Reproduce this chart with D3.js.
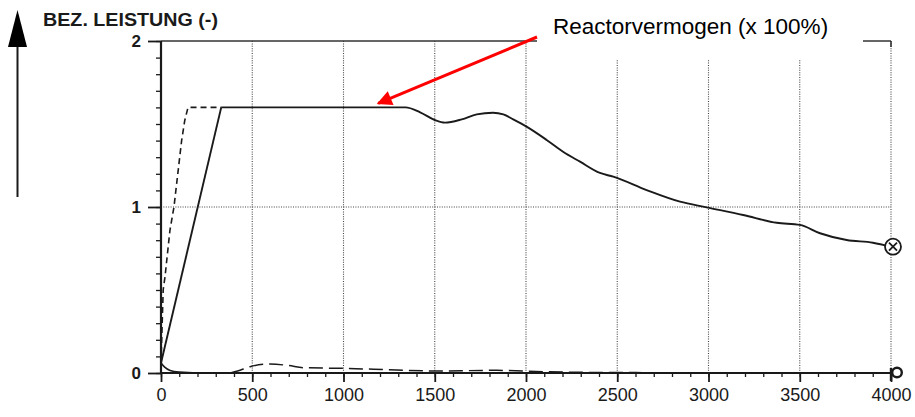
<!DOCTYPE html>
<html>
<head>
<meta charset="utf-8">
<script src="https://cdn.jsdelivr.net/npm/d3@7"></script>
<style>
  html, body { margin: 0; padding: 0; background: #fff; }
  svg { display: block; }
</style>
</head>
<body>
<svg id="chart" width="915" height="417"></svg>
<script>
// Reactor power (relative) over time
const powerTime  = [0, 330, 1340, 1420, 1500, 1556, 1648, 1730, 1819, 1876, 1930, 2003, 2113, 2203, 2296, 2405, 2478, 2661, 2844, 2990, 3190, 3374, 3501, 3611, 3757, 3901, 4000];
const powerValue = [0.06, 1.6, 1.6, 1.57, 1.524, 1.508, 1.528, 1.558, 1.568, 1.558, 1.528, 1.484, 1.404, 1.333, 1.273, 1.205, 1.183, 1.102, 1.032, 0.998, 0.952, 0.905, 0.892, 0.842, 0.801, 0.785, 0.761];

// Demanded power (dashed), rising faster than the reactor
const demandTime  = [0, 12, 22, 49, 71, 92, 113, 130, 148, 330];
const demandValue = [0.06, 0.5, 0.58, 0.86, 1.0, 1.2, 1.4, 1.52, 1.6, 1.6];

// Low-level signals near zero
const lowSolidTime  = [0, 20, 50, 100, 200, 4000];
const lowSolidValue = [0.06, 0.035, 0.015, 0.005, 0, 0];
const lowDashTime   = [380, 420, 488, 597, 700, 778, 1000, 1291, 1500, 1839, 2100, 2400, 4000];
const lowDashValue  = [0.0, 0.012, 0.038, 0.054, 0.045, 0.032, 0.028, 0.018, 0.012, 0.016, 0.008, 0.003, 0.0];

// Axis ticks
const xTicks = [0, 500, 1000, 1500, 2000, 2500, 3000, 3500, 4000];
const yTicks = [0, 1, 2];
const yLabel = "BEZ. LEISTUNG (-)";
const noteText = "Reactorvermogen (x 100%)";
const noteTarget = [1190, 1.6];

const svg = d3.select("#chart");
const margin = { left: 161, right: 24, top: 41, bottom: 44 };
const W = 915, H = 417;

const x = d3.scaleLinear().domain([0, 4000]).range([margin.left, W - margin.right]);
const y = d3.scaleLinear().domain([0, 2]).range([H - margin.bottom, margin.top]);

const ink = "#1a1a1a";

// Dotted grid
const grid = svg.append("g");
grid.selectAll("line.v").data(xTicks.filter(d => d > 0)).join("line")
  .attr("x1", d => x(d)).attr("x2", d => x(d))
  .attr("y1", y(2)).attr("y2", y(0))
  .attr("stroke", "#444").attr("stroke-width", 1.1)
  .attr("stroke-dasharray", "1,1.4");
grid.append("line")
  .attr("x1", x(0)).attr("x2", x(4000))
  .attr("y1", y(1)).attr("y2", y(1))
  .attr("stroke", "#444").attr("stroke-width", 1.1)
  .attr("stroke-dasharray", "1,1.4");

// Top frame line
svg.append("line")
  .attr("x1", x(0)).attr("x2", x(4000))
  .attr("y1", y(2)).attr("y2", y(2))
  .attr("stroke", "#333").attr("stroke-width", 1.6);
svg.append("line")
  .attr("x1", x(4000)).attr("x2", x(4000))
  .attr("y1", y(2)).attr("y2", y(2) + 6)
  .attr("stroke", "#333").attr("stroke-width", 1.6);

// Y axis with minor ticks every 0.1
const yAxis = svg.append("g").attr("transform", `translate(${x(0)},0)`);
yAxis.call(d3.axisLeft(y).tickValues(d3.range(0, 2.0001, 0.1)).tickSize(5).tickFormat(""));
yAxis.call(g => g.select(".domain").remove());
yAxis.selectAll("line").attr("stroke", ink).attr("stroke-width", 1.3);
const yMajor = svg.append("g").attr("transform", `translate(${x(0)},0)`);
yMajor.call(d3.axisLeft(y).tickValues(yTicks).tickSize(13).tickFormat(d3.format("d")).tickPadding(7));
yMajor.select(".domain").remove();
yMajor.selectAll("line").attr("stroke", ink).attr("stroke-width", 1.8);
yMajor.selectAll("text")
  .attr("font-family", "Liberation Sans, Arial, sans-serif")
  .attr("font-size", 17).attr("font-weight", "bold").attr("fill", ink);
svg.append("line")
  .attr("x1", x(0)).attr("x2", x(0)).attr("y1", y(2)).attr("y2", y(0))
  .attr("stroke", ink).attr("stroke-width", 2.2);

// X axis with minor ticks every 100
const xMinor = svg.append("g").attr("transform", `translate(0,${y(0)})`);
xMinor.call(d3.axisBottom(x).tickValues(d3.range(0, 4001, 100)).tickSize(4).tickFormat(""));
xMinor.select(".domain").remove();
xMinor.selectAll("line").attr("stroke", ink).attr("stroke-width", 1.3);
const xAxis = svg.append("g").attr("transform", `translate(0,${y(0)})`);
xAxis.call(d3.axisBottom(x).tickValues(xTicks).tickSize(9).tickFormat(d3.format("d")).tickPadding(6));
xAxis.select(".domain").remove();
xAxis.selectAll("line").attr("stroke", ink).attr("stroke-width", 1.8);
xAxis.selectAll("text")
  .attr("font-family", "Liberation Sans, Arial, sans-serif")
  .attr("font-size", 18).attr("fill", ink);
svg.append("line")
  .attr("x1", x(0)).attr("x2", x(4000)).attr("y1", y(0)).attr("y2", y(0))
  .attr("stroke", ink).attr("stroke-width", 2.2);

// Series
const zip = (a, b) => a.map((t, i) => [t, b[i]]);
const straight = d3.line().x(d => x(d[0])).y(d => y(d[1]));
const smooth = d3.line().x(d => x(d[0])).y(d => y(d[1])).curve(d3.curveMonotoneX);

svg.append("path").datum(zip(lowDashTime, lowDashValue))
  .attr("d", smooth).attr("fill", "none")
  .attr("stroke", ink).attr("stroke-width", 1.5).attr("stroke-dasharray", "14,6");
svg.append("path").datum(zip(lowSolidTime, lowSolidValue))
  .attr("d", smooth).attr("fill", "none")
  .attr("stroke", ink).attr("stroke-width", 1.6);
svg.append("path").datum(zip(demandTime, demandValue))
  .attr("d", straight).attr("fill", "none")
  .attr("stroke", ink).attr("stroke-width", 1.6).attr("stroke-dasharray", "6,4");

// Power: linear start-up ramp, then a smooth plateau and decay
const power = zip(powerTime, powerValue);
const powerG = svg.append("g").attr("fill", "none")
  .attr("stroke", ink).attr("stroke-width", 1.9).attr("stroke-linejoin", "round");
powerG.append("path").datum(power.slice(0, 2)).attr("d", straight);
powerG.append("path").datum(power.slice(1)).attr("d", smooth);

// End markers
const endPower = power[power.length - 1];
const mx = x(endPower[0]) + 2, my = y(endPower[1]);
svg.append("circle").attr("cx", mx).attr("cy", my).attr("r", 8)
  .attr("fill", "#fff").attr("stroke", ink).attr("stroke-width", 1.8);
svg.append("path")
  .attr("d", `M${mx - 4},${my - 4}L${mx + 4},${my + 4}M${mx + 4},${my - 4}L${mx - 4},${my + 4}`)
  .attr("stroke", ink).attr("stroke-width", 1.8);
const px = x(4000), py = y(0);
svg.append("line").attr("x1", px).attr("x2", px).attr("y1", py - 5).attr("y2", py + 8)
  .attr("stroke", ink).attr("stroke-width", 2.4);
svg.append("circle").attr("cx", px + 6).attr("cy", py - 0.5).attr("r", 4.8)
  .attr("fill", "#fff").attr("stroke", ink).attr("stroke-width", 2.4);

// Axis title with upward arrow
svg.append("line").attr("x1", 17.5).attr("x2", 17.5).attr("y1", 44).attr("y2", 197)
  .attr("stroke", ink).attr("stroke-width", 2);
svg.append("path").attr("d", "M8,47L27,47L17.5,10Z").attr("fill", "#000");
svg.append("text").attr("x", 43).attr("y", 26)
  .attr("font-family", "Liberation Sans, Arial, sans-serif")
  .attr("font-size", 18).attr("font-weight", "bold").attr("fill", ink)
  .attr("textLength", 175).attr("lengthAdjust", "spacingAndGlyphs")
  .text(yLabel);

// Annotation
svg.append("rect").attr("x", 537).attr("y", 0).attr("width", 326).attr("height", 60).attr("fill", "#fff");
svg.append("text").attr("x", 553).attr("y", 34)
  .attr("font-family", "Liberation Sans, Arial, sans-serif")
  .attr("font-size", 22.5).attr("fill", "#000")
  .text(noteText);
svg.append("defs").append("marker")
  .attr("id", "redhead").attr("viewBox", "0 0 10 10")
  .attr("refX", 9).attr("refY", 5)
  .attr("markerWidth", 6).attr("markerHeight", 5)
  .attr("markerUnits", "strokeWidth").attr("orient", "auto")
  .append("path").attr("d", "M0,0L10,5L0,10Z").attr("fill", "#f00");
svg.append("line")
  .attr("x1", 537).attr("y1", 37)
  .attr("x2", x(noteTarget[0])).attr("y2", y(noteTarget[1]) - 4)
  .attr("stroke", "#f00").attr("stroke-width", 3)
  .attr("marker-end", "url(#redhead)");
</script>
</body>
</html>
